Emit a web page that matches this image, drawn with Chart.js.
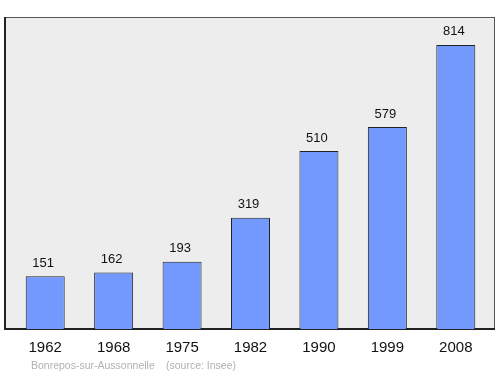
<!DOCTYPE html>
<html>
<head>
<meta charset="utf-8">
<script src="https://cdn.jsdelivr.net/npm/chart.js@4/dist/chart.umd.min.js"></script>
<style>
  html, body { margin: 0; padding: 0; background: #fff; }
  #wrap { width: 500px; height: 374px; }
</style>
</head>
<body>
<div id="wrap"><canvas id="chart"></canvas></div>
<script>
const years = ['1962', '1968', '1975', '1982', '1990', '1999', '2008'];
const population = [151, 162, 193, 319, 510, 579, 814];
const source = ['Bonrepos-sur-Aussonnelle', '(source: Insee)'];

const BAR = '#7399ff';
const FONT = '"Liberation Sans", Arial, sans-serif';

// grey plot box with the darker left/bottom edges
const frame = {
  id: 'frame',
  beforeDraw(chart) {
    const c = chart.ctx;
    const top = chart.chartArea.top, bottom = chart.chartArea.bottom;
    c.save();
    c.fillStyle = '#ededed';
    c.fillRect(5, top, 490, bottom - top);
    c.strokeStyle = '#555';
    c.lineWidth = 1;
    c.strokeRect(5.5, top + 0.5, 489, bottom - top);
    c.strokeStyle = '#222';
    c.lineWidth = 2;
    c.beginPath();
    c.moveTo(5, top);
    c.lineTo(5, bottom);
    c.lineTo(495, bottom);
    c.stroke();
    c.restore();
  },
  afterDraw(chart) {
    const c = chart.ctx;
    c.save();
    c.font = '13px ' + FONT;
    c.fillStyle = '#111';
    c.textAlign = 'center';
    c.textBaseline = 'middle';
    chart.getDatasetMeta(0).data.forEach((bar, i) => {
      c.fillText(String(population[i]), bar.x - 2, bar.y - 13);
    });
    c.font = '10.5px ' + FONT;
    c.fillStyle = '#b0b0b0';
    c.textAlign = 'left';
    c.fillText(source[0], 31, 366);
    c.fillText(source[1], 166, 366);
    c.restore();
  },
};

new Chart(document.getElementById('chart'), {
  type: 'bar',
  data: {
    labels: years,
    datasets: [{
      data: population,
      backgroundColor: BAR,
      borderColor: '#222',
      borderWidth: 1,
      categoryPercentage: 1,
      barPercentage: 0.57,
    }],
  },
  options: {
    responsive: true,
    maintainAspectRatio: false,
    animation: false,
    layout: { padding: { left: 11, right: 10, top: 17, bottom: 0 } },
    plugins: { legend: { display: false }, tooltip: { enabled: false } },
    scales: {
      x: {
        grid: { display: false, drawTicks: false },
        border: { display: false },
        ticks: { color: '#111', font: { family: FONT, size: 15 }, padding: 10 },
        afterFit(scale) { scale.height = 45; },
      },
      y: { display: false, min: 0, max: 894 },
    },
  },
  plugins: [frame],
});
</script>
</body>
</html>
